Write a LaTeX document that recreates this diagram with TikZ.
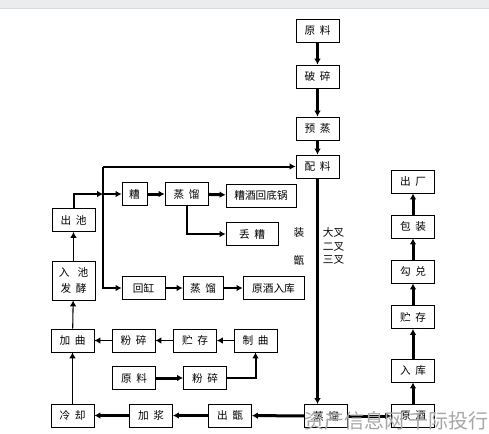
\documentclass[tikz,border=0pt]{standalone}
\usepackage{fontspec}
\setmainfont{Noto Sans CJK SC}
\usepackage{xcolor}
\usetikzlibrary{arrows.meta}
\definecolor{BarGray}{HTML}{EBECEE}
\definecolor{BarLine}{HTML}{D8DADD}
\definecolor{MarkGray}{HTML}{A6A6A6}
\newcommand\chgap{\hspace{3.5pt}}

\begin{document}
\begin{tikzpicture}[x=0.75pt,y=-0.75pt,font=\fontsize{8}{10}\selectfont,>={Latex[length=4.5pt,width=5pt]}]
\tikzset{bx/.style={draw,line width=.6pt,fill=white,inner sep=0pt,align=center,minimum width=32.25pt,minimum height=17.25pt},
         thinarr/.style={->,line width=.8pt},
         medarr/.style={->,line width=1.5pt},
         boldarr/.style={->,line width=2.25pt}}
\useasboundingbox (0,0) rectangle (489,433);
\fill[BarGray] (0,0) rectangle (489,8); \draw[BarLine,line width=.75pt] (0,8.5) -- (489,8.5);
\node[bx] (yl1) at (317.5,30.5) {原\chgap 料};
\node[bx] (ps) at (317.5,76.5) {破\chgap 碎};
\node[bx] (yz) at (317.5,128.5) {预\chgap 蒸};
\node[bx] (pl) at (317.5,166.5) {配\chgap 料};
\node[bx] (cc) at (73.5,220) {出\chgap 池};
\node[bx,minimum height=29.25pt] (rc) at (73.5,280.5) {入\hspace{6pt}池\\[2pt]发\chgap 酵};
\node[bx] (jq) at (72.5,340.5) {加\chgap 曲};
\node[bx] (lq) at (72.5,415.5) {冷\chgap 却};
\node[bx,minimum width=18.75pt] (zao) at (134.5,194) {糟};
\node[bx] (zl1) at (186.5,194) {蒸\chgap 馏};
\node[bx,minimum width=52.5pt] (hdg) at (261,195.5) {糟酒回底锅};
\node[bx,minimum width=39pt] (dz) at (252,234) {丢\chgap 糟};
\node[bx] (hg) at (143.5,288) {回缸};
\node[bx,minimum width=30pt] (zl2) at (203,288) {蒸\chgap 馏};
\node[bx,minimum width=45.75pt] (yjrk) at (273.5,288) {原酒入库};
\node[bx] (fs1) at (133.5,340.5) {粉\chgap 碎};
\node[bx] (zc1) at (195,340.5) {贮\chgap 存};
\node[bx] (zq) at (255.5,340.5) {制\chgap 曲};
\node[bx] (yl2) at (134,378) {原\chgap 料};
\node[bx] (fs2) at (205,378) {粉\chgap 碎};
\node[bx] (jj) at (151,415.5) {加\chgap 浆};
\node[bx] (cz) at (230,415.5) {出\chgap 甑};
\node[bx] (zl3) at (326,416) {蒸\chgap 馏};
\node[bx] (yj) at (413,416) {原\chgap 酒};
\node[bx] (rk) at (413,370.5) {入\chgap 库};
\node[bx] (zc2) at (413,317) {贮\chgap 存};
\node[bx] (gd) at (413,271.5) {勾\chgap 兑};
\node[bx] (bz) at (413,226.5) {包\chgap 装};
\node[bx] (chc) at (413,181.5) {出\chgap 厂};
\node (zhuang) at (299,232) {装}; \node (zeng) at (299,260) {甑};
\node[align=left,inner sep=0pt] (cha) at (333.5,246) {大叉\\二叉\\三叉};
\coordinate (spl) at (103,0);
\draw[boldarr] (yl1) -- (ps); \draw[boldarr] (ps) -- (yz); \draw[boldarr] (yz) -- (pl);
\draw[boldarr] (pl.south) -- (pl.south |- zl3.north);
\draw[medarr] (spl |- pl.west) -- (pl.west); \draw[medarr] (spl |- pl.west) |- (hg.west);
\draw[medarr] (cc.north) |- (spl |- zao.west); \draw[medarr] (spl |- zao.west) -- (zao.west);
\draw[boldarr] (zao) -- (zl1); \draw[boldarr] (zl1) -- (hdg); \draw[medarr] (zl1.south) |- (dz.west);
\draw[medarr] (hg) -- (zl2); \draw[medarr] (zl2) -- (yjrk);
\draw[thinarr] (zq) -- (zc1); \draw[thinarr] (zc1) -- (fs1); \draw[thinarr] (fs1) -- (jq);
\draw[boldarr] (yl2) -- (fs2); \draw[medarr] (fs2.east) -| (zq.south);
\draw[thinarr] (lq) -- (jq); \draw[thinarr] (jq) -- (rc); \draw[thinarr] (rc) -- (cc);
\draw[boldarr] (zl3) -- (cz); \draw[boldarr] (cz) -- (jj); \draw[boldarr] (jj) -- (lq);
\draw[boldarr] (zl3) -- (yj);
\draw[boldarr] (yj) -- (rk); \draw[boldarr] (rk) -- (zc2); \draw[boldarr] (zc2) -- (gd); \draw[boldarr] (gd) -- (bz); \draw[boldarr] (bz) -- (chc);
\node[anchor=east,inner sep=0pt,text=MarkGray,font=\fontsize{15}{16}\selectfont] (mark) at (489,421) {资产信息网 千际投行};
\end{tikzpicture}
\end{document}
